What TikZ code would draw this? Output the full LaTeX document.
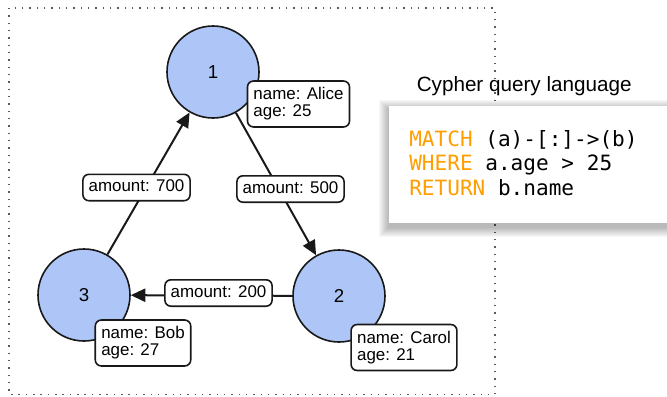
\documentclass[tikz,border=0pt]{standalone}
\usepackage{fontspec}
\setmainfont{Liberation Sans}
\setmonofont{DejaVu Sans Mono}
\usetikzlibrary{arrows.meta}

\definecolor{nodeblue}{RGB}{174,198,247}
\definecolor{keyword}{RGB}{255,158,0}
\definecolor{outline}{RGB}{25,25,25}

\tikzset{
  vertex/.style={circle, draw=outline, line width=1.2pt, fill=nodeblue,
    minimum size=69pt, inner sep=0pt, font=\fontsize{14}{16}\selectfont},
  propbox/.style={draw=outline, line width=1.2pt, rounded corners=4.5pt, fill=white,
    align=left, inner xsep=4.5pt, inner ysep=5pt,
    font=\fontsize{12.7}{12.6}\selectfont},
  amountbox/.style={draw=outline, line width=1.2pt, rounded corners=4.5pt, fill=white,
    inner xsep=4.3pt, inner ysep=4pt, text height=9.2pt, text depth=2.6pt,
    font=\fontsize{12.7}{14}\selectfont},
  relation/.style={draw=outline, line width=1.5pt,
    -{Triangle[length=11pt,width=10pt]}},
  frame/.style={draw=black!65, line width=1.1pt, dash pattern=on 1.1pt off 4.4pt},
  codeline/.style={anchor=base west, inner sep=0pt,
    font=\ttfamily\fontsize{15.8}{18}\selectfont},
}

\begin{document}
\begin{tikzpicture}[x=0.75pt, y=-0.75pt]
  \useasboundingbox (0,0) rectangle (667,396);

  % dotted frame around the graph
  \draw[frame] (9,8) rectangle (495,394.5);

  % vertices
  \node[vertex] (n1) at (213,72) {1};
  \node[vertex] (n2) at (339,296) {2};
  \node[vertex] (n3) at (84,295) {3};

  % relationships
  \draw[relation] (n3) -- (n1);
  \draw[relation] (n1) -- (n2);
  \draw[relation] (n2) -- (n3);

  % relationship properties
  \node[amountbox] (a700) at (136.5,187.5) {amount: 700};
  \node[amountbox] (a500) at (290.5,189) {amount: 500};
  \node[amountbox] (a200) at (218.5,293) {amount: 200};

  % vertex properties
  \node[propbox] (p1) at (298.5,104) {name: Alice\\age: 25};
  \node[propbox] (p3) at (143,343) {name: Bob\\age: 27};
  \node[propbox] (p2) at (404,347.5) {name: Carol\\age: 21};

  % query panel with soft shadow
  \foreach \i in {1,...,10}
    \fill[black, opacity=0.03] (389-\i,106-\i+4) rectangle (700,223+\i+4);
  \fill[white] (389,106) rectangle (700,223);
  \node[anchor=base west, inner sep=0pt, font=\fontsize{15.5}{18}\selectfont]
    (title) at (416.5,91) {Cypher query language};
  \node[codeline] (q1) at (409,146) {\textcolor{keyword}{MATCH} (a)-[:]->(b)};
  \node[codeline] (q2) at (409,170.5) {\textcolor{keyword}{WHERE} a.age > 25};
  \node[codeline] (q3) at (409,195) {\textcolor{keyword}{RETURN} b.name};
\end{tikzpicture}
\end{document}
